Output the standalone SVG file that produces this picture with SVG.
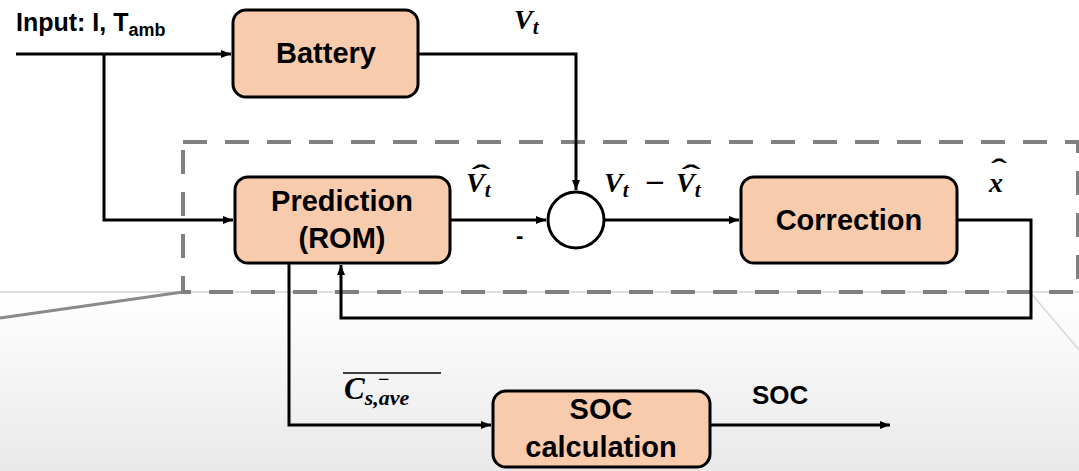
<svg xmlns="http://www.w3.org/2000/svg" width="1079" height="471" viewBox="0 0 1079 471">
<style>
.box{fill:#f8cbad;stroke:#000;stroke-width:3}
.lbl{font-family:"Liberation Sans",Arial,sans-serif;font-weight:bold;font-size:29px;fill:#000;text-anchor:middle}
.wire{fill:none;stroke:#000;stroke-width:3}
.math{font-family:"Liberation Serif","Times New Roman",serif;font-weight:bold;font-style:italic;fill:#000}
.hat{font-family:"Liberation Serif","Times New Roman",serif;font-weight:bold;fill:#000;text-anchor:middle;font-size:30px}
</style>
<defs>
<linearGradient id="bg" x1="0" y1="292" x2="0" y2="471" gradientUnits="userSpaceOnUse">
<stop offset="0" stop-color="#ffffff"/>
<stop offset="1" stop-color="#e9e9e9"/>
</linearGradient>
<marker id="arr" markerWidth="10" markerHeight="8" refX="10" refY="4" orient="auto" markerUnits="userSpaceOnUse">
<path d="M0,0 L10,4 L0,8 Z" fill="#000"/>
</marker>
</defs>
<rect x="0" y="0" width="1079" height="471" fill="#fff"/>
<g id="background">
<rect x="0" y="292" width="1079" height="179" fill="url(#bg)"/>
<line x1="0" y1="292" x2="1079" y2="292" stroke="#d6d6d6" stroke-width="1.5"/>
<line x1="0" y1="318" x2="183" y2="292" stroke="#8a8a8a" stroke-width="3"/>
<line x1="1030" y1="292" x2="1079" y2="350" stroke="#d8d8d8" stroke-width="1.5"/>
<rect id="observer-frame" x="183" y="142" width="895" height="150" fill="none" stroke="#808080" stroke-width="4" stroke-dasharray="24 18"/>
</g>
<g id="connectors">
<path class="wire" d="M16,54 H231" marker-end="url(#arr)"/>
<path class="wire" d="M104,54 V220 H233" marker-end="url(#arr)"/>
<path class="wire" d="M418,54 H576 V190" marker-end="url(#arr)"/>
<path class="wire" d="M450,220 H546" marker-end="url(#arr)"/>
<path class="wire" d="M604,220 H739" marker-end="url(#arr)"/>
<path class="wire" d="M957,220 H1031 V318 H341 V265" marker-end="url(#arr)"/>
<path class="wire" d="M289,263 V425 H491" marker-end="url(#arr)"/>
<path class="wire" d="M710,425 H890" marker-end="url(#arr)"/>
</g>
<g id="input-label">
<text x="16" y="31" font-family="Liberation Sans, Arial, sans-serif" font-weight="bold" font-size="25">Input: I, T<tspan font-size="18" dy="5">amb</tspan></text>
</g>
<g id="battery">
<rect class="box" x="233" y="10" width="185" height="87" rx="13"/>
<text class="lbl" x="326" y="63" font-size="27">Battery</text>
</g>
<g id="prediction">
<rect class="box" x="235" y="177" width="215" height="86" rx="13"/>
<text class="lbl" x="342" y="211">Prediction</text>
<text class="lbl" x="342" y="248">(ROM)</text>
</g>
<g id="sum">
<circle cx="576" cy="220" r="28" fill="#fff" stroke="#000" stroke-width="3"/>
</g>
<g id="correction">
<rect class="box" x="741" y="177" width="216" height="86" rx="13"/>
<text class="lbl" x="849" y="230">Correction</text>
</g>
<g id="soc-calc">
<rect class="box" x="493" y="391" width="217" height="76" rx="13"/>
<text class="lbl" x="601" y="419">SOC</text>
<text class="lbl" x="601" y="457">calculation</text>
</g>
<g id="math-labels">
<text class="math" x="514" y="29" font-size="28">V<tspan font-size="21" dy="5">t</tspan></text>
<text class="math" x="466" y="192" font-size="28">V<tspan font-size="21" dy="5">t</tspan></text>
<text class="hat" transform="translate(481,185) scale(1.9,1)">ˆ</text>
<text x="516" y="243" font-family="Liberation Sans, Arial, sans-serif" font-weight="bold" font-size="22">-</text>
<text class="math" x="604" y="192" font-size="28">V<tspan font-size="21" dy="5">t</tspan></text>
<text x="644" y="191" font-family="DejaVu Sans, sans-serif" font-size="26">−</text>
<text class="math" x="676" y="192" font-size="28">V<tspan font-size="21" dy="5">t</tspan></text>
<text class="hat" transform="translate(691,185) scale(1.9,1)">ˆ</text>
<text class="math" x="989" y="192" font-size="28">x</text>
<text class="hat" transform="translate(999,179) scale(1.6,1)">ˆ</text>
<line x1="343" y1="373" x2="441" y2="373" stroke="#000" stroke-width="1.5"/>
<text class="math" x="344" y="399" font-size="31">C<tspan font-size="22" dy="6">s,ave</tspan></text>
<text x="378" y="386" font-family="Liberation Serif, serif" font-weight="bold" font-size="20">−</text>
<text x="752" y="404" font-family="Liberation Sans, Arial, sans-serif" font-weight="bold" font-size="26">SOC</text>
</g>
</svg>
